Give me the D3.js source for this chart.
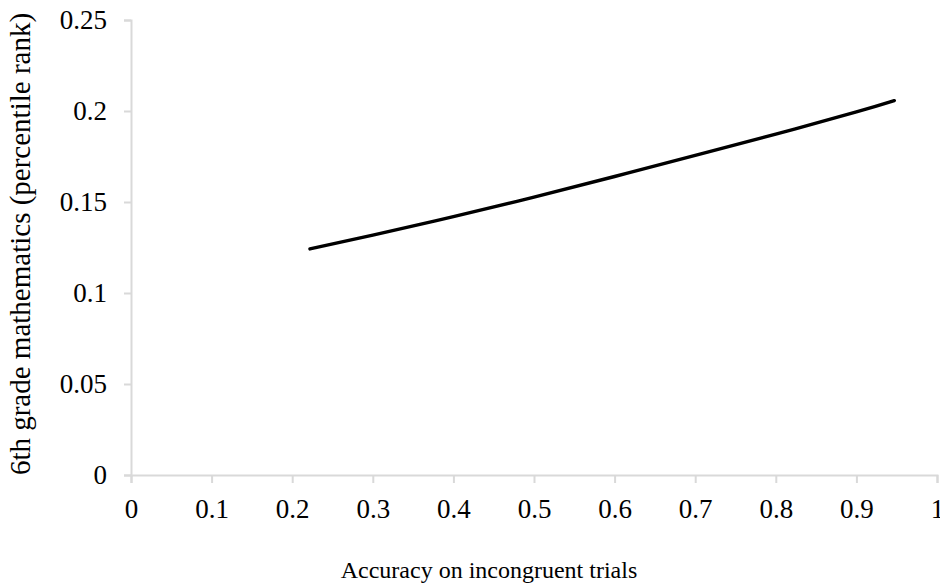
<!DOCTYPE html>
<html>
<head>
<meta charset="utf-8">
<script src="https://d3js.org/d3.v7.min.js"></script>
<style>
  body { margin: 0; background: #fff; }
  text { font-family: "Liberation Serif", "Times New Roman", serif; fill: #000; }
</style>
</head>
<body>
<script>
// values
var accuracy = [0.222, 0.3, 0.4, 0.5, 0.6, 0.7, 0.8, 0.9, 0.947];
var mathRank = [0.1242, 0.1318, 0.1420, 0.1527, 0.1640, 0.1756, 0.1873, 0.1995, 0.2057];
var xTicks = [0, 0.1, 0.2, 0.3, 0.4, 0.5, 0.6, 0.7, 0.8, 0.9, 1];
var yTicks = [0, 0.05, 0.1, 0.15, 0.2, 0.25];

var width = 940, height = 584;
var svg = d3.select("body").append("svg")
  .attr("width", width)
  .attr("height", height);

// plot area
var x = d3.scaleLinear().domain([0, 1]).range([131, 937]);
var y = d3.scaleLinear().domain([0, 0.25]).range([475, 20]);

var axisColor = "#d9d9d9";
var tickFont = "27px";

// x axis
var xAxis = svg.append("g")
  .attr("transform", "translate(0," + y(0) + ")")
  .call(d3.axisBottom(x).tickValues(xTicks).tickSize(8).tickPadding(16)
    .tickFormat(function(d) { return d3.format("")(d); }));
xAxis.select(".domain").attr("stroke", axisColor).attr("stroke-width", 2);
xAxis.selectAll(".tick line").attr("stroke", axisColor).attr("stroke-width", 2);
xAxis.selectAll("text").style("font-size", tickFont).attr("fill", "#000")
  .style("font-family", "Liberation Serif, serif");

// y axis
var yAxis = svg.append("g")
  .attr("transform", "translate(" + x(0) + ",0)")
  .call(d3.axisLeft(y).tickValues(yTicks).tickSize(7).tickPadding(17)
    .tickFormat(function(d) { return d3.format("")(+d.toFixed(2)); }));
yAxis.select(".domain").attr("stroke", axisColor).attr("stroke-width", 2);
yAxis.selectAll(".tick line").attr("stroke", axisColor).attr("stroke-width", 2);
yAxis.selectAll("text").style("font-size", tickFont).attr("fill", "#000")
  .style("font-family", "Liberation Serif, serif");

// the fitted curve
var line = d3.line()
  .x(function(d, i) { return x(accuracy[i]); })
  .y(function(d) { return y(d); })
  .curve(d3.curveNatural);

svg.append("path")
  .datum(mathRank)
  .attr("d", line)
  .attr("fill", "none")
  .attr("stroke", "#000")
  .attr("stroke-width", 3.4)
  .attr("stroke-linecap", "round");

// axis titles
svg.append("text")
  .attr("x", 489)
  .attr("y", 578)
  .attr("text-anchor", "middle")
  .style("font-size", "24px")
  .text("Accuracy on incongruent trials");

svg.append("text")
  .attr("transform", "translate(30,244) rotate(-90)")
  .attr("text-anchor", "middle")
  .style("font-size", "29px")
  .text("6th grade mathematics (percentile rank)");
</script>
</body>
</html>
